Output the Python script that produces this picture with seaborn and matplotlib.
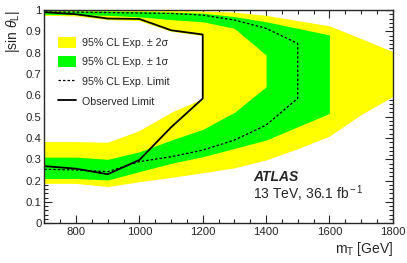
import numpy as np
import pandas as pd
import seaborn as sns
import matplotlib.pyplot as plt
from matplotlib.patches import Patch
from matplotlib.lines import Line2D
from matplotlib.ticker import MultipleLocator, FormatStrFormatter

# contours: mT grid plus lower / upper branch of |sin theta_L|
obs_m = [700, 800, 900, 1000, 1100, 1200]
obs_lo = [0.268, 0.256, 0.230, 0.297, 0.450, 0.585]
obs_hi = [0.990, 0.980, 0.960, 0.958, 0.905, 0.885]

exp_m = [700, 800, 900, 1000, 1100, 1200, 1300, 1400, 1500]
exp_lo = [0.253, 0.250, 0.242, 0.289, 0.312, 0.343, 0.390, 0.460, 0.586]
exp_hi = [0.990, 0.990, 0.988, 0.986, 0.984, 0.976, 0.953, 0.914, 0.843]

p1_m = [700, 800, 900, 1000, 1100, 1200, 1300, 1400, 1500, 1600]
p1_lo = [0.210, 0.210, 0.203, 0.242, 0.281, 0.312, 0.351, 0.390, 0.453, 0.515]
p1_hi = [0.995, 0.995, 0.995, 0.993, 0.990, 0.985, 0.969, 0.945, 0.914, 0.883]

m1_m = [700, 800, 900, 1000, 1100, 1200, 1300, 1400]
m1_lo = [0.310, 0.310, 0.300, 0.335, 0.390, 0.440, 0.520, 0.640]
m1_hi = [0.980, 0.978, 0.975, 0.968, 0.955, 0.945, 0.914, 0.789]

p2_m = [700, 800, 900, 1000, 1100, 1200, 1300, 1400, 1500, 1600, 1700, 1800]
p2_lo = [0.187, 0.187, 0.172, 0.195, 0.215, 0.237, 0.260, 0.297, 0.350, 0.409, 0.510, 0.594]
p2_hi = [1.000, 1.000, 1.000, 1.000, 0.998, 0.995, 0.990, 0.975, 0.950, 0.926, 0.866, 0.805]

m2_m = [700, 800, 900, 1000, 1100, 1200]
m2_lo = [0.383, 0.383, 0.380, 0.435, 0.520, 0.585]
m2_hi = [0.975, 0.972, 0.955, 0.950, 0.900, 0.880]


def closed_curve(m, lo, hi):
    # walk lower branch out, upper branch back
    return pd.DataFrame({"mT": list(m) + list(m)[::-1],
                         "sin": list(lo) + list(hi)[::-1]})


sns.set_style("ticks")
plt.rcParams["font.family"] = ["Liberation Sans", "DejaVu Sans"]
plt.rcParams["mathtext.fontset"] = "custom"
plt.rcParams["mathtext.rm"] = "Liberation Sans"
plt.rcParams["mathtext.it"] = "Liberation Sans:italic"

fig = plt.figure(figsize=(4.07, 2.63), dpi=100)
ax = fig.add_axes([0.109, 0.151, 0.856, 0.811])

yellow = "#ffff00"
green = "#00ff00"

ax.fill_between(p2_m, p2_lo, p2_hi, color=yellow, lw=0, zorder=1)
ax.fill_between(p1_m, p1_lo, p1_hi, color=green, lw=0, zorder=1.1)
ax.fill_between(m1_m, m1_lo, m1_hi, color=yellow, lw=0, zorder=1.2)
ax.fill_between(m2_m, m2_lo, m2_hi, color="white", lw=0, zorder=1.3)

exp_df = closed_curve(exp_m, exp_lo, exp_hi)
obs_df = closed_curve(obs_m, obs_lo, obs_hi)
sns.lineplot(data=exp_df, x="mT", y="sin", sort=False, estimator=None,
             color="black", lw=0.9, dashes=False, ax=ax, zorder=3)
ax.lines[-1].set_dashes((2, 1.6))
sns.lineplot(data=obs_df, x="mT", y="sin", sort=False, estimator=None,
             color="black", lw=1.3, ax=ax, zorder=3)

ax.set_xlim(700, 1800)
ax.set_ylim(0, 1)
ax.xaxis.set_major_locator(MultipleLocator(200))
ax.xaxis.set_minor_locator(MultipleLocator(50))
ax.yaxis.set_major_locator(MultipleLocator(0.1))
ax.yaxis.set_minor_locator(MultipleLocator(0.02))
ax.yaxis.set_major_formatter(FormatStrFormatter("%g"))
ax.tick_params(which="both", direction="in", top=True, right=True,
               labelsize=8.2, width=0.8, zorder=5)
ax.tick_params(which="major", length=6, pad=3)
ax.tick_params(which="minor", length=3)
ax.tick_params(axis="y", pad=2)
for sp in ax.spines.values():
    sp.set_linewidth(1.0)
    sp.set_zorder(5)

ax.set_xlabel(r"m$_{\rm T}$ [GeV]", fontsize=10, loc="right", labelpad=2)
ax.set_ylabel(r"|sin $\theta_{\rm L}$|", fontsize=10, loc="top", labelpad=3)

handles = [Patch(facecolor=yellow, edgecolor="none"),
           Patch(facecolor=green, edgecolor="none"),
           Line2D([0], [0], color="black", lw=0.9, dashes=(2, 1.6)),
           Line2D([0], [0], color="black", lw=1.3)]
labels = ["95% CL Exp. ± 2σ", "95% CL Exp. ± 1σ",
          "95% CL Exp. Limit", "Observed Limit"]
leg = ax.legend(handles, labels, loc="upper left", bbox_to_anchor=(0.04, 0.875),
                frameon=False, fontsize=7.7, handlelength=1.7, handleheight=1.2,
                handletextpad=0.5, labelspacing=0.8, borderpad=0, borderaxespad=0)
leg.set_zorder(6)

ax.text(0.599, 0.197, "ATLAS", transform=ax.transAxes, fontsize=10,
        fontweight="bold", fontstyle="italic", va="baseline", zorder=6)
ax.text(0.599, 0.115, r"13 TeV, 36.1 fb$^{\rm -1}$", transform=ax.transAxes,
        fontsize=10, va="baseline", zorder=6)

fig.savefig("out.png", dpi=100)
